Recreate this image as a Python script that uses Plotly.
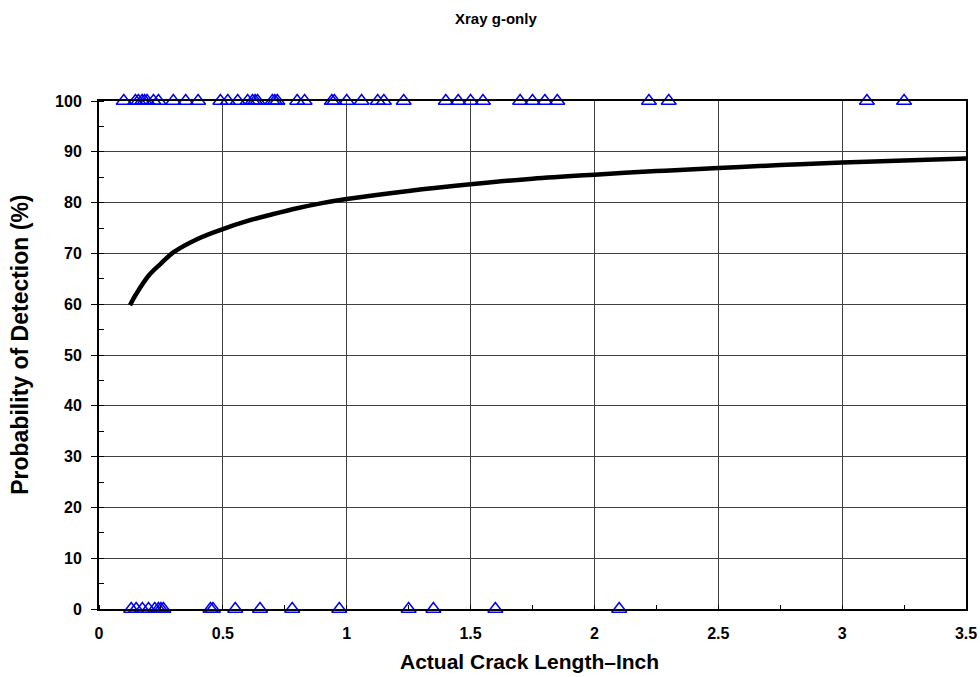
import plotly.graph_objects as go

# Crack lengths (inch) of detected flaws (hit = 100 %) and missed flaws (miss = 0 %)
hit_lengths = [0.10, 0.147, 0.159, 0.174, 0.184, 0.194, 0.22, 0.24, 0.30, 0.35,
               0.40, 0.49, 0.52, 0.56, 0.60, 0.62, 0.63, 0.64, 0.70, 0.71,
               0.72, 0.80, 0.83, 0.94, 0.95, 1.00, 1.06, 1.125, 1.15, 1.23,
               1.40, 1.45, 1.50, 1.55, 1.70, 1.75, 1.80, 1.85, 2.22, 2.30,
               3.10, 3.25]
miss_lengths = [0.13, 0.15, 0.175, 0.20, 0.225, 0.24, 0.25, 0.26, 0.45, 0.46,
                0.55, 0.65, 0.78, 0.97, 1.25, 1.35, 1.60, 2.10]

# Fitted probability-of-detection curve
pod_lengths = [0.125, 0.15, 0.2, 0.25, 0.3, 0.4, 0.5, 0.6, 0.7, 0.8, 0.9, 1.0,
               1.25, 1.5, 1.75, 2.0, 2.25, 2.5, 2.75, 3.0, 3.25, 3.5]
pod_values = [59.8, 62.0, 65.6, 68.0, 70.2, 72.9, 74.8, 76.4, 77.7, 78.9, 79.9, 80.7,
              82.3, 83.6, 84.7, 85.5, 86.2, 86.8, 87.4, 87.9, 88.3, 88.7]

x_tick_vals = [0, 0.5, 1, 1.5, 2, 2.5, 3, 3.5]
x_tick_text = ["0", "0.5", "1", "1.5", "2", "2.5", "3", "3.5"]
y_tick_vals = list(range(0, 101, 10))

FONT = "Liberation Sans, Arial, sans-serif"
marker_style = dict(symbol="triangle-up-open", size=13, color="#0000ff",
                    line=dict(width=1.5, color="#0000ff"))

fig = go.Figure()
fig.add_trace(go.Scatter(x=pod_lengths, y=pod_values, mode="lines",
                         line=dict(color="black", width=4.5, shape="spline"),
                         showlegend=False))
fig.add_trace(go.Scatter(x=hit_lengths, y=[100] * len(hit_lengths), mode="markers",
                         marker=marker_style, cliponaxis=False, showlegend=False))
fig.add_trace(go.Scatter(x=miss_lengths, y=[0] * len(miss_lengths), mode="markers",
                         marker=marker_style, cliponaxis=False, showlegend=False))

fig.update_layout(
    width=980, height=677,
    margin=dict(l=99, r=14, t=101, b=68),
    paper_bgcolor="white", plot_bgcolor="white",
    font=dict(family=FONT, color="black"),
    title=dict(text="Xray g-only", x=0.506, xanchor="center", y=0.973, yanchor="middle",
               font=dict(size=15, weight="bold", family=FONT, color="black")),
)
fig.update_xaxes(
    range=[0, 3.5], tickvals=x_tick_vals, ticktext=x_tick_text, automargin=False,
    showgrid=True, gridcolor="#404040", gridwidth=1,
    showline=True, linecolor="black", linewidth=2, mirror=True,
    ticks="", ticklabelstandoff=9, zeroline=False,
    tickfont=dict(size=16, weight="bold", family=FONT),
    minor=dict(dtick=0.25, tick0=0, ticks="inside", ticklen=4, tickcolor="black", showgrid=False),
)
fig.update_yaxes(
    range=[0, 100], tickvals=y_tick_vals, automargin=False,
    showgrid=True, gridcolor="#404040", gridwidth=1,
    showline=True, linecolor="black", linewidth=2, mirror=True,
    ticks="outside", ticklen=6, tickcolor="black", ticklabelstandoff=6, zeroline=False,
    tickfont=dict(size=16, weight="bold", family=FONT),
    minor=dict(dtick=5, tick0=0, ticks="inside", ticklen=5, tickcolor="black", showgrid=False),
)

# Axis titles placed in paper coordinates
fig.add_annotation(text="Actual Crack Length\u2013Inch", xref="paper", yref="paper",
                   x=0.4967, y=-0.104, xanchor="center", yanchor="middle", showarrow=False,
                   font=dict(size=21, weight="bold", family=FONT, color="black"))
fig.add_annotation(text="Probability of Detection (%)", xref="paper", yref="paper",
                   x=-0.0912, y=0.52, xanchor="center", yanchor="middle", showarrow=False,
                   textangle=-90,
                   font=dict(size=23, weight="bold", family=FONT, color="black"))

fig.write_html("out.html")
